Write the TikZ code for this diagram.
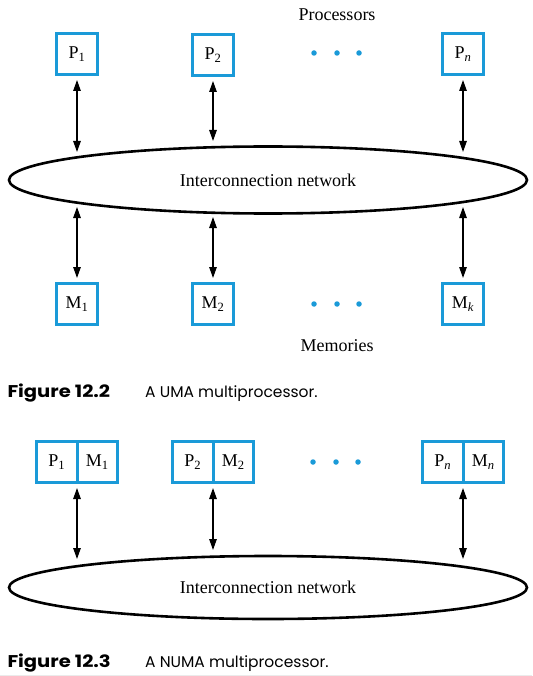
\documentclass[tikz,border=0pt]{standalone}
\usepackage{fontspec}
\usepackage{graphicx}
\setmainfont{Liberation Serif}
\newfontfamily\capfont{Poppins}
\usetikzlibrary{arrows.meta,shapes.geometric}
\definecolor{boxblue}{RGB}{26,154,216}
\newcommand{\figword}[1]{\scalebox{1.15}[1]{#1}}
\tikzset{
	unitbox/.style={draw=boxblue, line width=3pt, minimum width=41pt, minimum height=41pt},
	halfbox/.style={draw=boxblue, line width=3pt, minimum width=40.5pt, minimum height=41pt, outer sep=0pt},
	netring/.style={draw, ellipse, line width=2.6pt, minimum width=518pt, minimum height=67pt},
	link/.style={{Triangle[length=11pt,width=7.5pt]}-{Triangle[length=11pt,width=7.5pt]}, line width=1.3pt, shorten <=4pt},
	bluedot/.style={circle, fill=boxblue, minimum size=5.5pt},
	figlabel/.style={anchor=base west, font=\capfont\bfseries\fontsize{17}{20}\selectfont},
	figtext/.style={anchor=base west, font=\capfont\fontsize{15.5}{18}\selectfont}
}
\begin{document}
\begin{tikzpicture}[x=1pt,y=-1pt]
			\tikzstyle{every node}+=[inner sep=0pt, font=\fontsize{18}{20}\selectfont]
			\useasboundingbox (0,0) rectangle (532,676);
			\node (proc) at (337,15) {Processors};
			\node [unitbox] (P1) at (77,54) {P\textsubscript{1}};
			\node [unitbox] (P2) at (213,55) {P\textsubscript{2}};
			\node [unitbox] (Pn) at (463,54) {P\textsubscript{\textit{n}}};
			\node [bluedot] (d1) at (314,53) {};
			\node [bluedot] (d2) at (337,53) {};
			\node [bluedot] (d3) at (359,53) {};
			\node [netring] (net1) at (268,180) {Interconnection network};
			\node [unitbox] (M1) at (77,304) {M\textsubscript{1}};
			\node [unitbox] (M2) at (213,304) {M\textsubscript{2}};
			\node [unitbox] (Mk) at (463,304) {M\textsubscript{\textit{k}}};
			\node [bluedot] (e1) at (314,304) {};
			\node [bluedot] (e2) at (337,304) {};
			\node [bluedot] (e3) at (359,304) {};
			\node (mem) at (337,346) {Memories};
			\coordinate (a1) at (77,152);
			\coordinate (a2) at (213,141);
			\coordinate (a3) at (463,152);
			\coordinate (b1) at (77,207);
			\coordinate (b2) at (213,217);
			\coordinate (b3) at (463,207);
			\draw [link] (P1.south) -- (a1);
			\draw [link] (P2.south) -- (a2);
			\draw [link] (Pn.south) -- (a3);
			\draw [link] (M1.north) -- (b1);
			\draw [link] (M2.north) -- (b2);
			\draw [link] (Mk.north) -- (b3);
			\node [figlabel] (fig1) at (7.3,397) {\figword{Figure 12.2}};
			\node [figtext] (cap1) at (145,397) {A UMA multiprocessor.};
			\node [halfbox, anchor=east] (Q1) at (77,462) {P\textsubscript{1}};
			\node [halfbox, anchor=west] (N1) at (77,462) {M\textsubscript{1}};
			\node [halfbox, anchor=east] (Q2) at (213,462) {P\textsubscript{2}};
			\node [halfbox, anchor=west] (N2) at (213,462) {M\textsubscript{2}};
			\node [halfbox, anchor=east] (Qn) at (463,462) {P\textsubscript{\textit{n}}};
			\node [halfbox, anchor=west] (Nn) at (463,462) {M\textsubscript{\textit{n}}};
			\node [bluedot] (f1) at (313,462) {};
			\node [bluedot] (f2) at (336,462) {};
			\node [bluedot] (f3) at (358,462) {};
			\node [netring, minimum height=63pt] (net2) at (268,587.5) {Interconnection network};
			\coordinate (c1) at (77,559);
			\coordinate (c2) at (213,550);
			\coordinate (c3) at (463,559);
			\draw [link, shorten <=5.5pt] (Q1.south east) -- (c1);
			\draw [link, shorten <=5.5pt] (Q2.south east) -- (c2);
			\draw [link, shorten <=5.5pt] (Qn.south east) -- (c3);
			\node [figlabel] (fig2) at (7.3,667) {\figword{Figure 12.3}};
			\node [figtext] (cap2) at (145,667) {A NUMA multiprocessor.};
			\draw [black!8, line width=1pt] (0,675.5) -- (532,675.5);
\end{tikzpicture}
\end{document}
